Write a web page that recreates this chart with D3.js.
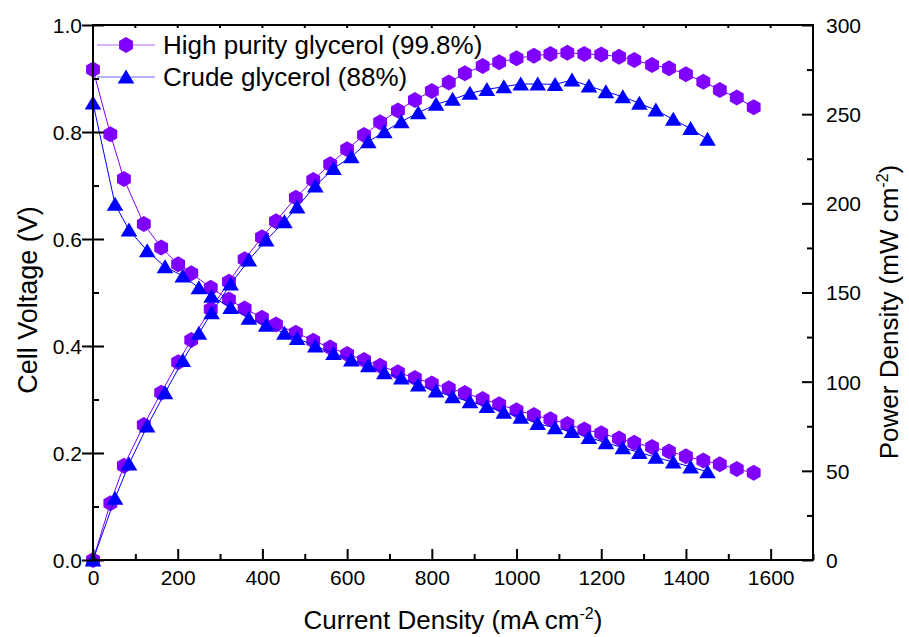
<!DOCTYPE html>
<html>
<head>
<meta charset="utf-8">
<script src="https://cdn.jsdelivr.net/npm/d3@7"></script>
<style>
  html, body { margin: 0; padding: 0; background: #fff; }
  svg { display: block; font-family: "Liberation Sans", Arial, sans-serif; }
</style>
</head>
<body>
<svg id="chart" width="909" height="637"></svg>
<script>
// Current density (mA cm-2), cell voltage (V) and power density (mW cm-2)
const pureCurrent = [0, 41, 73, 120, 161, 201, 232, 278, 321, 358, 399, 432, 479, 520, 560, 600, 640, 678, 720, 760,
  800, 840, 878, 920, 959, 1000, 1041, 1080, 1120, 1160, 1200, 1242, 1278, 1320, 1360, 1400, 1441, 1480, 1520, 1560];
const pureVoltage = [0.917, 0.796, 0.712, 0.628, 0.584, 0.553, 0.536, 0.509, 0.487, 0.470, 0.453, 0.440, 0.425, 0.410,
  0.397, 0.385, 0.374, 0.363, 0.351, 0.340, 0.330, 0.321, 0.312, 0.301, 0.291, 0.280, 0.271, 0.263, 0.254, 0.244,
  0.237, 0.227, 0.219, 0.211, 0.203, 0.194, 0.186, 0.179, 0.170, 0.163];
const purePower = [0, 31.8, 52.9, 75.7, 93.8, 110.9, 123.4, 140.6, 156.0, 168.6, 181.0, 190.0, 203.2, 213.1, 221.9,
  230.3, 238.3, 245.4, 252.0, 257.9, 263.0, 267.7, 272.9, 277.0, 279.1, 281.3, 282.8, 283.7, 284.5, 283.7, 283.4,
  282.2, 280.4, 277.6, 275.7, 272.4, 268.2, 263.6, 259.3, 253.9];

const crudeCurrent = [0, 52, 85, 128, 170, 212, 250, 280, 325, 368, 409, 452, 482, 525, 568, 610, 650, 688, 728, 768,
  810, 849, 890, 930, 970, 1010, 1050, 1091, 1131, 1171, 1211, 1251, 1290, 1329, 1370, 1411, 1451];
const crudeVoltage = [0.854, 0.665, 0.617, 0.578, 0.548, 0.531, 0.509, 0.493, 0.472, 0.452, 0.439, 0.424, 0.414, 0.400,
  0.386, 0.374, 0.363, 0.350, 0.340, 0.327, 0.316, 0.305, 0.296, 0.287, 0.276, 0.267, 0.255, 0.247, 0.240, 0.229,
  0.219, 0.210, 0.201, 0.192, 0.183, 0.174, 0.165];
const crudePower = [0, 34.6, 53.8, 75.1, 93.8, 111.8, 127.1, 138.7, 154.8, 168.2, 179.4, 189.7, 198.0, 209.7, 219.6,
  226.1, 234.6, 240.2, 245.8, 250.8, 255.5, 258.3, 261.7, 263.9, 265.4, 266.9, 266.9, 266.7, 269.1, 265.8, 262.6,
  259.8, 256.1, 252.3, 247.1, 241.9, 235.9];

const seriesNames = ["High purity glycerol (99.8%)", "Crude glycerol (88%)"];
const seriesColors = ["#8000ff", "#0000ff"];

const xTicks = [0, 200, 400, 600, 800, 1000, 1200, 1400, 1600];
const yLeftTicks = [0.0, 0.2, 0.4, 0.6, 0.8, 1.0];
const yRightTicks = [0, 50, 100, 150, 200, 250, 300];

const margin = { left: 93, top: 25, right: 96, bottom: 77 };
const W = 909, H = 637;
const iw = W - margin.left - margin.right;
const ih = H - margin.top - margin.bottom;
const FONT = "Liberation Sans, Arial, sans-serif";

const svg = d3.select("#chart");
const g = svg.append("g").attr("transform", `translate(${margin.left},${margin.top})`);

const x = d3.scaleLinear().domain([0, 1700]).range([0, iw]);
const yL = d3.scaleLinear().domain([0, 1]).range([ih, 0]);
const yR = d3.scaleLinear().domain([0, 300]).range([ih, 0]);

// Marker shapes: pointy-top hexagon and upward triangle
const hexR = 8;
const hexPath = (() => {
  const pts = d3.range(6).map(i => {
    const a = Math.PI / 2 + i * Math.PI / 3;
    return [hexR * Math.cos(a), hexR * Math.sin(a)];
  });
  return "M" + pts.map(p => p.join(",")).join("L") + "Z";
})();
const triPath = "M0,-7.5L8.3,6.5L-8.3,6.5Z";
const shapes = [hexPath, triPath];

function drawSeries(cur, vals, yScale, idx) {
  const data = cur.map((c, i) => [c, vals[i]]);
  const line = d3.line().x(d => x(d[0])).y(d => yScale(d[1]));
  g.append("path").datum(data)
    .attr("fill", "none").attr("stroke", seriesColors[idx]).attr("stroke-width", 1)
    .attr("d", line);
  g.append("g").selectAll("path").data(data).join("path")
    .attr("transform", d => `translate(${x(d[0])},${yScale(d[1])})`)
    .attr("d", shapes[idx]).attr("fill", seriesColors[idx]);
}

drawSeries(pureCurrent, pureVoltage, yL, 0);
drawSeries(pureCurrent, purePower, yR, 0);
drawSeries(crudeCurrent, crudeVoltage, yL, 1);
drawSeries(crudeCurrent, crudePower, yR, 1);

// Axes
const tickFont = 21;
const bottomAxis = d3.axisBottom(x).tickValues(d3.range(0, 1701, 100))
  .tickSize(0).tickFormat(d => xTicks.includes(d) ? d : "");
const gb = g.append("g").attr("transform", `translate(0,${ih})`).call(bottomAxis);
gb.select(".domain").remove();
gb.selectAll(".tick text").attr("dy", 0).attr("y", 25).attr("font-size", tickFont)
  .attr("font-family", FONT).attr("fill", "#000");
gb.selectAll(".tick").append("line")
  .attr("y1", 0).attr("y2", d => xTicks.includes(d) ? -11 : -6)
  .attr("stroke", "#000").attr("stroke-width", 2);

// top axis ticks
const gt = g.append("g");
gt.selectAll("line").data(d3.range(100, 1700, 100)).join("line")
  .attr("x1", d => x(d)).attr("x2", d => x(d)).attr("y1", 0).attr("y2", 3)
  .attr("stroke", "#000").attr("stroke-width", 2);

const leftAxis = d3.axisLeft(yL).tickValues(d3.range(0, 1.001, 0.1).map(v => +v.toFixed(1)))
  .tickSize(0).tickFormat(d => yLeftTicks.some(t => Math.abs(t - d) < 1e-9) ? d3.format(".1f")(d) : "");
const gl = g.append("g").call(leftAxis);
gl.select(".domain").remove();
gl.selectAll(".tick text").attr("x", -11).attr("dy", "0.35em").attr("font-size", tickFont)
  .attr("font-family", FONT).attr("fill", "#000");
gl.selectAll(".tick").each(function (d) {
  const major = yLeftTicks.some(t => Math.abs(t - d) < 1e-9);
  d3.select(this).append("line")
    .attr("x1", major ? -11 : 0).attr("x2", major ? 11 : 6)
    .attr("stroke", "#000").attr("stroke-width", 2);
});

const rightAxis = d3.axisRight(yR).tickValues(d3.range(0, 301, 25))
  .tickSize(0).tickFormat(d => yRightTicks.includes(d) ? d : "");
const gr = g.append("g").attr("transform", `translate(${iw},0)`).call(rightAxis);
gr.select(".domain").remove();
gr.selectAll(".tick text").attr("x", 13).attr("dy", "0.35em").attr("font-size", tickFont)
  .attr("font-family", FONT).attr("fill", "#000");
gr.selectAll(".tick").append("line")
  .attr("x1", 0).attr("x2", d => yRightTicks.includes(d) ? -11 : -6)
  .attr("stroke", "#000").attr("stroke-width", 2);

// frame
g.append("rect").attr("x", 0).attr("y", 0).attr("width", iw).attr("height", ih)
  .attr("fill", "none").attr("stroke", "#000").attr("stroke-width", 2);

// Axis titles
const titleSize = 26;
const xt = svg.append("text").attr("x", 453).attr("y", 629)
  .attr("text-anchor", "middle").attr("font-size", titleSize).attr("fill", "#000");
xt.append("tspan").text("Current Density (mA cm");
xt.append("tspan").attr("dy", -10).attr("font-size", 16).text("-2");
xt.append("tspan").attr("dy", 10).text(")");

svg.append("text").attr("transform", `translate(37,300) rotate(-90)`)
  .attr("text-anchor", "middle").attr("font-size", 27).attr("fill", "#000")
  .text("Cell Voltage (V)");

const rt = svg.append("text").attr("transform", `translate(898,312) rotate(-90)`)
  .attr("text-anchor", "middle").attr("font-size", titleSize).attr("fill", "#000");
rt.append("tspan").text("Power Density (mW cm");
rt.append("tspan").attr("dy", -10).attr("font-size", 16).text("-2");
rt.append("tspan").attr("dy", 10).text(")");

// Legend
const legend = svg.append("g");
seriesNames.forEach((name, i) => {
  const ly = 45 + i * 32;
  legend.append("line").attr("x1", 97).attr("x2", 155).attr("y1", ly).attr("y2", ly)
    .attr("stroke", seriesColors[i]).attr("stroke-width", 1).attr("stroke-opacity", 0.6);
  legend.append("path").attr("transform", `translate(126,${ly})`).attr("d", shapes[i]).attr("fill", seriesColors[i]);
  legend.append("text").attr("x", 163).attr("y", ly).attr("dy", "0.35em")
    .attr("font-size", 26).attr("fill", "#000").text(name);
});
</script>
</body>
</html>
